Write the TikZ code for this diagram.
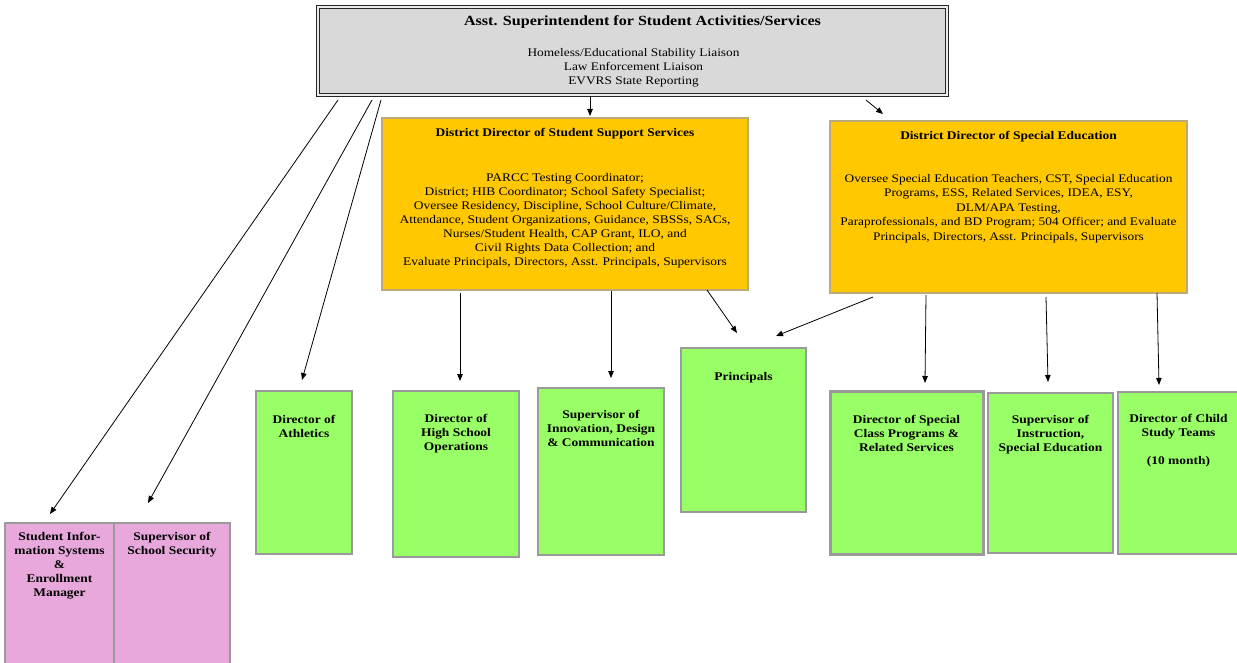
\documentclass[tikz,border=0pt]{standalone}
\usepackage{fontspec}
\setmainfont[FakeStretch=1.15]{Liberation Serif}
\usetikzlibrary{calc,arrows.meta}
\definecolor{topgray}{HTML}{D9D9D9}
\definecolor{dirorange}{HTML}{FFC800}
\definecolor{dirborder}{HTML}{BBA97A}
\definecolor{staffgreen}{HTML}{99FF66}
\definecolor{staffpink}{HTML}{E8A8DC}
\definecolor{boxgray}{HTML}{9A9A9A}

\begin{document}
\begin{tikzpicture}[x=1pt,y=-1pt,
  frame/.style={rectangle, anchor=north west, inner sep=0pt, outer sep=0pt},
  topbox/.style={frame, fill=topgray, draw=black!85, line width=1pt,
    double=white!85!gray, double distance=1.6pt},
  dirbox/.style={frame, fill=dirorange, draw=dirborder, line width=2.2pt},
  greenbox/.style={frame, fill=staffgreen, draw=boxgray, line width=2pt},
  pinkbox/.style={frame, fill=staffpink, draw=boxgray, line width=2pt},
  lbl/.style={anchor=north, inner sep=0pt, align=center},
  bodyfont/.style={font=\fontsize{11.7}{14.1}\selectfont},
  headfont/.style={font=\bfseries\fontsize{11.7}{14}\selectfont},
  stafffont/.style={font=\bfseries\fontsize{11.7}{14}\selectfont},
  arr/.style={-{Triangle[length=7pt,width=5.5pt]}, line width=0.8pt, black}]

\useasboundingbox (0,0) rectangle (1237,663);

% top level
\node[topbox, minimum width=629, minimum height=88] (sup) at (318,7) {};
\node[lbl, font=\bfseries\fontsize{14}{16}\selectfont] (sup-t) at ($(sup.north)+(10,8)$)
  {Asst. Superintendent for Student Activities/Services};
\node[lbl, font=\fontsize{11.6}{14.3}\selectfont] (sup-b) at ($(sup.north)+(1,41)$)
  {Homeless/Educational Stability Liaison\\Law Enforcement Liaison\\EVVRS State Reporting};

% district directors
\node[dirbox, minimum width=366, minimum height=172] (sss) at (382,118) {};
\node[lbl, headfont] (sss-t) at ($(sss.north)+(0,10)$) {District Director of Student Support Services};
\node[lbl, bodyfont] (sss-b) at ($(sss.north)+(0,55)$)
  {PARCC Testing Coordinator;\\
   District; HIB Coordinator; School Safety Specialist;\\
   Oversee Residency, Discipline, School Culture/Climate,\\
   Attendance, Student Organizations, Guidance, SBSSs, SACs,\\
   Nurses/Student Health, CAP Grant, ILO, and\\
   Civil Rights Data Collection; and\\
   Evaluate Principals, Directors, Asst. Principals, Supervisors};

\node[dirbox, minimum width=357, minimum height=172] (sped) at (830,121) {};
\node[lbl, headfont] (sped-t) at ($(sped.north)+(0,10)$) {District Director of Special Education};
\node[lbl, font=\fontsize{11.6}{14.5}\selectfont] (sped-b) at ($(sped.north)+(0,53)$)
  {Oversee Special Education Teachers, CST, Special Education\\
   Programs, ESS, Related Services, IDEA, ESY,\\
   DLM/APA Testing,\\
   Paraprofessionals, and BD Program; 504 Officer; and Evaluate\\
   Principals, Directors, Asst. Principals, Supervisors};

% staff positions
\node[greenbox, minimum width=96, minimum height=163] (ath) at (256,391) {};
\node[lbl, stafffont] (ath-t) at ($(ath.north)+(0,24)$) {Director of\\Athletics};

\node[greenbox, minimum width=126, minimum height=166] (hso) at (393,391) {};
\node[lbl, stafffont] (hso-t) at ($(hso.north)+(0,23)$) {Director of\\High School\\Operations};

\node[greenbox, minimum width=126, minimum height=167] (idc) at (538,388) {};
\node[lbl, stafffont] (idc-t) at ($(idc.north)+(0,22)$) {Supervisor of\\Innovation, Design\\\& Communication};

\node[greenbox, minimum width=125, minimum height=164] (prn) at (681,348) {};
\node[lbl, stafffont] (prn-t) at ($(prn.north)+(0,24)$) {Principals};

\node[greenbox, line width=3pt, minimum width=153, minimum height=163] (scp) at (830,391) {};
\node[lbl, stafffont] (scp-t) at ($(scp.north)+(0,24)$) {Director of Special\\Class Programs \&\\Related Services};

\node[greenbox, minimum width=125, minimum height=160] (sis2) at (988,393) {};
\node[lbl, stafffont] (sis2-t) at ($(sis2.north)+(0,22)$) {Supervisor of\\Instruction,\\Special Education};

\node[greenbox, minimum width=121, minimum height=162] (cst) at (1118,392) {};
\node[lbl, stafffont] (cst-t) at ($(cst.north)+(0,22)$) {Director of Child\\Study Teams\\[14pt](10 month)};

\node[pinkbox, minimum width=109, minimum height=150] (sim) at (5,523) {};
\node[lbl, stafffont] (sim-t) at ($(sim.north)+(0,9)$) {Student Infor-\\mation Systems\\\&\\Enrollment\\Manager};

\node[pinkbox, minimum width=116, minimum height=150] (sec) at (114,523) {};
\node[lbl, stafffont] (sec-t) at ($(sec.north)+(0,9)$) {Supervisor of\\School Security};

% reporting lines
\draw[arr] ($(sup.south west)+(20,5)$) -- ($(sim.north west)+(45,-9)$);
\draw[arr] ($(sup.south west)+(54,5)$) -- ($(sec.north west)+(34,-20)$);
\draw[arr] ($(sup.south west)+(63,5)$) -- ($(ath.north west)+(46,-11)$);
\draw[arr] ($(sup.south west)+(272,1)$) -- ($(sss.north west)+(208,-2)$);
\draw[arr] ($(sup.south west)+(548,5)$) -- ($(sped.north west)+(53,-7)$);

\draw[arr] ($(sss.south west)+(78,3)$) -- ($(hso.north west)+(67,-10)$);
\draw[arr] ($(sss.south west)+(229,1)$) -- ($(idc.north west)+(73,-10)$);
\draw[arr] ($(sss.south west)+(325,0)$) -- ($(prn.north west)+(56,-15)$);

\draw[arr] ($(sped.south west)+(43,4)$) -- ($(prn.north west)+(95,-12)$);
\draw[arr] ($(sped.south west)+(96,2)$) -- ($(scp.north west)+(95,-8)$);
\draw[arr] ($(sped.south west)+(216,4)$) -- ($(sis2.north west)+(60,-11)$);
\draw[arr] ($(sped.south west)+(327,0)$) -- ($(cst.north west)+(41,-7)$);
\end{tikzpicture}
\end{document}
